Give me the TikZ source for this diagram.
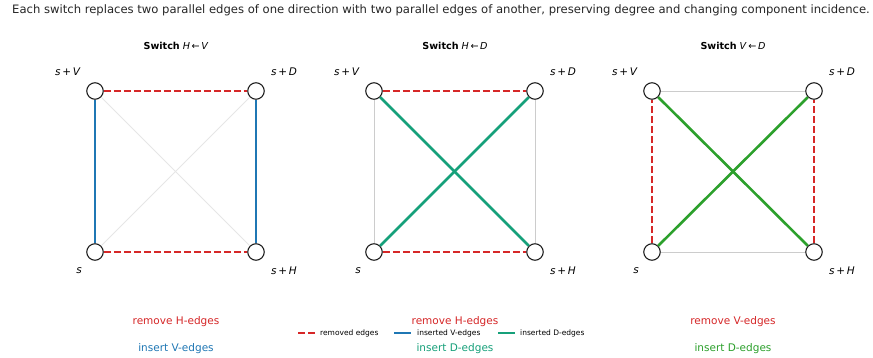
\documentclass[tikz,border=0pt]{standalone}
\usepackage{fontspec}
\setmainfont{DejaVu Sans}
\definecolor{cred}{HTML}{D62728}
\definecolor{cblue}{HTML}{1F77B4}
\definecolor{cteal}{RGB}{22,160,122}
\definecolor{cgreen}{HTML}{2CA02C}
\definecolor{cfaint}{HTML}{E6E6E6}
\definecolor{clgray}{HTML}{CCCCCC}
\definecolor{cnode}{HTML}{222222}
\tikzset{
  vert/.style={circle,draw=cnode,fill=white,minimum size=16.5pt,inner sep=0pt,line width=1.1pt},
  lab/.style={font=\fontsize{10.5}{12}\selectfont,inner sep=0pt},
  ptitle/.style={font=\fontsize{9.6}{11}\selectfont,inner sep=0pt},
  bottomtext/.style={font=\fontsize{10.5}{12}\selectfont,inner sep=0pt},
  legtext/.style={font=\fontsize{7.5}{9}\selectfont,inner sep=0pt,anchor=west},
  remedge/.style={draw=cred,line width=2.6pt,dash pattern=on 7pt off 3pt},
  insV/.style={draw=cblue,line width=2.6pt},
  insDt/.style={draw=cteal,line width=2.6pt},
  insDg/.style={draw=cgreen,line width=2.6pt},
  faintedge/.style={draw=cfaint,line width=0.9pt},
  grayedge/.style={draw=clgray,line width=0.9pt}
}
\newcommand{\mi}[1]{\textit{#1}}
\begin{document}
\begin{tikzpicture}[x=1pt,y=-1pt]
\useasboundingbox (0,0) rectangle (873,358);
\fill[white] (0,0) rectangle (873,358);
\node[font=\fontsize{11.6}{13}\selectfont,inner sep=0pt,text=black!85] (title) at (441,10)
 {Each switch replaces two parallel edges of one direction with two parallel edges of another, preserving degree and changing component incidence.};
% nodes
\foreach \p/\x/\xr in {1/95/256,2/374/535,3/652/814}{
  \node[vert] (s\p) at (\x,252) {};
  \node[vert] (h\p) at (\xr,252) {};
  \node[vert] (v\p) at (\x,91) {};
  \node[vert] (d\p) at (\xr,91) {};
  \node[lab] (ls\p) at (\x-16,271) {\mi{s}};
  \node[lab] (lh\p) at (\xr+28,271) {\mi{s}\,+\,\mi{H}};
  \node[lab] (lv\p) at (\x-27,72) {\mi{s}\,+\,\mi{V}};
  \node[lab] (ld\p) at (\xr+28,72) {\mi{s}\,+\,\mi{D}};
}
% panel titles
\node[ptitle] (t1) at (176,46) {\textbf{Switch} \mi{H}\,←\,\mi{V}};
\node[ptitle] (t2) at (455,46) {\textbf{Switch} \mi{H}\,←\,\mi{D}};
\node[ptitle] (t3) at (733,46) {\textbf{Switch} \mi{V}\,←\,\mi{D}};
% panel 1
\draw[faintedge] (s1) -- (d1);
\draw[faintedge] (v1) -- (h1);
\draw[remedge] (v1) -- (d1);
\draw[remedge] (s1) -- (h1);
\draw[insV] (s1) -- (v1);
\draw[insV] (h1) -- (d1);
% panel 2
\draw[grayedge] (s2) -- (v2);
\draw[grayedge] (h2) -- (d2);
\draw[remedge] (v2) -- (d2);
\draw[remedge] (s2) -- (h2);
\draw[insDt] (s2) -- (d2);
\draw[insDt] (v2) -- (h2);
% panel 3
\draw[grayedge] (v3) -- (d3);
\draw[grayedge] (s3) -- (h3);
\draw[remedge] (s3) -- (v3);
\draw[remedge] (h3) -- (d3);
\draw[insDg] (s3) -- (d3);
\draw[insDg] (v3) -- (h3);
% bottom texts
\node[bottomtext,text=cred] (r1) at (176,322) {remove H-edges};
\node[bottomtext,text=cblue] (i1) at (176,349) {insert V-edges};
\node[bottomtext,text=cred] (r2) at (455,322) {remove H-edges};
\node[bottomtext,text=cteal] (i2) at (455,349) {insert D-edges};
\node[bottomtext,text=cred] (r3) at (733,322) {remove V-edges};
\node[bottomtext,text=cgreen] (i3) at (733,349) {insert D-edges};
% legend
\coordinate (la1) at (298,333); \coordinate (lb1) at (314.5,333);
\coordinate (la2) at (394,333); \coordinate (lb2) at (411,333);
\coordinate (la3) at (498,333); \coordinate (lb3) at (515,333);
\draw[remedge] (la1) -- (lb1);
\draw[insV] (la2) -- (lb2);
\draw[insDt] (la3) -- (lb3);
\node[legtext] (lt1) at (320,333) {removed edges};
\node[legtext] (lt2) at (417,333) {inserted V-edges};
\node[legtext] (lt3) at (520,333) {inserted D-edges};
\end{tikzpicture}
\end{document}
